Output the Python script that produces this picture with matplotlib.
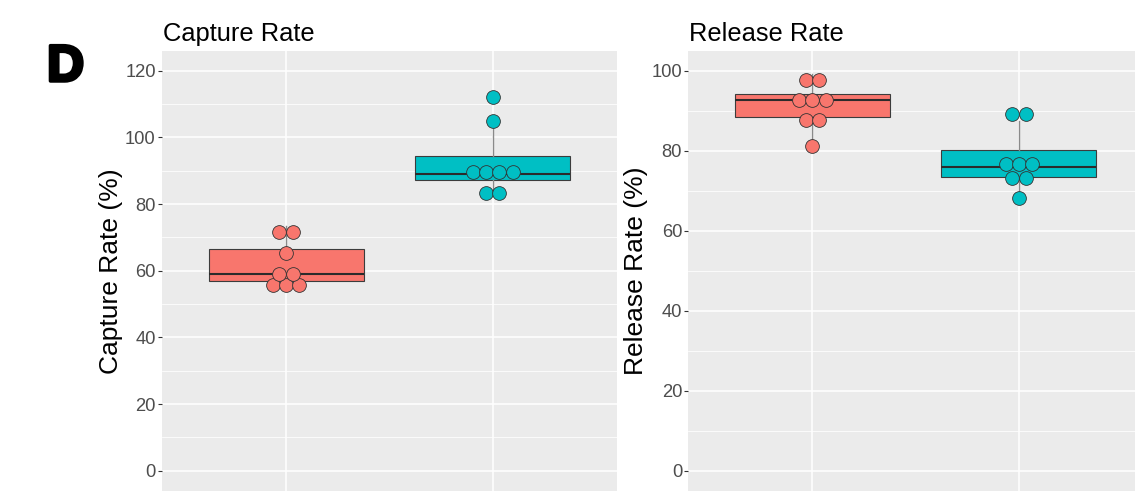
import numpy as np
import matplotlib
matplotlib.use("Agg")
import matplotlib.pyplot as plt
import matplotlib.patheffects as pe

plt.rcParams['font.family'] = ['Liberation Sans', 'DejaVu Sans']

# ---------------- data ----------------
groups = ["Group 1", "Group 2"]
capture_g1 = [53.8, 54.8, 57.6, 58.2, 59.8, 65.4, 69.9, 73.5]
capture_g2 = [83.0, 83.4, 88.5, 88.8, 89.4, 90.9, 105.0, 112.2]
release_g1 = [81.1, 86.0, 89.2, 91.9, 93.5, 93.5, 96.1, 99.3]
release_g2 = [68.1, 72.3, 73.9, 75.8, 76.2, 77.6, 87.5, 90.7]
capture_ticks = [0, 20, 40, 60, 80, 100, 120]
release_ticks = [0, 20, 40, 60, 80, 100]
panel_titles = ["Capture Rate", "Release Rate"]
y_labels = ["Capture Rate (%)", "Release Rate (%)"]
panel_letter = "D"

colors = ["#F8766D", "#00BFC4"]
W, H = 1135, 491
fig = plt.figure(figsize=(W / 100, H / 100), dpi=100)


def px_axes(x0, x1, y0, y1):
    return fig.add_axes([x0 / W, 1 - y1 / H, (x1 - x0) / W, (y1 - y0) / H])


def dot_bins(vals, bw):
    vals = sorted(vals)
    bins = []
    end = -np.inf
    for v in vals:
        if v >= end:
            bins.append([v])
            end = v + bw
        else:
            bins[-1].append(v)
    return [((min(b) + max(b)) / 2, len(b)) for b in bins]


def panel(ax, data, ticks, title, ylabel, ylab_x):
    lo, hi = min(ticks), max(ticks)
    ex = (hi - lo) * 0.05
    ax.set_xlim(0.4, 2.6)
    ax.set_ylim(lo - ex, hi + ex)
    ax.set_facecolor("#EBEBEB")
    for s in ax.spines.values():
        s.set_visible(False)
    # grid
    step = ticks[1] - ticks[0]
    for t in ticks:
        ax.axhline(t, color="white", lw=1.1, zorder=0)
    for t in ticks[:-1]:
        ax.axhline(t + step / 2, color="white", lw=0.55, zorder=0)
    for x in [1, 2]:
        ax.axvline(x, color="white", lw=1.1, zorder=0)
    ax.set_yticks(ticks)
    ax.set_yticklabels([str(t) for t in ticks], fontsize=13.2, color="#4D4D4D")
    ax.set_xticks([1, 2])
    ax.tick_params(axis="both", length=3, width=0.8, color="#333333", pad=1.5)
    ax.tick_params(axis="x", labelbottom=False)

    bp = ax.boxplot(data, positions=[1, 2], widths=0.75, whis=1.5,
                    showfliers=False, showcaps=False, patch_artist=True,
                    medianprops=dict(color="#2b2b2b", lw=1.5),
                    whiskerprops=dict(color="#8a8a8a", lw=1.0),
                    boxprops=dict(edgecolor="#3c3c3c", lw=0.8), zorder=2)
    for patch, c in zip(bp["boxes"], colors):
        patch.set_facecolor(c)

    # dotplot
    bw = (hi - lo) / 30.0
    fig.canvas.draw()
    p0 = ax.transData.transform((1, 0))
    p1 = ax.transData.transform((2, bw))
    px_per_x = p1[0] - p0[0]
    diam_px = p1[1] - p0[1]
    dx = diam_px / px_per_x
    d_pt = diam_px * 72 / fig.dpi
    for i, (vals, c) in enumerate(zip(data, colors)):
        for center, n in dot_bins(vals, bw):
            xs = (i + 1) + (np.arange(n) - (n - 1) / 2) * dx
            ax.scatter(xs, [center] * n, s=(d_pt + 0.3) ** 2, color=c,
                       edgecolor="#333333", linewidth=0.6, zorder=4)

    bb = ax.get_position()
    fig.text(bb.x0 + 1 / W, 1 - 41 / H, title, fontsize=18.4, color="black",
             ha="left", va="baseline")
    fig.text(ylab_x / W, bb.y0 + bb.height / 2, ylabel, fontsize=19,
             rotation=90, ha="center", va="center", color="black")


ax1 = px_axes(162, 616.7, 50.7, 490.7)
panel(ax1, [capture_g1, capture_g2], capture_ticks, panel_titles[0], y_labels[0], 111)
ax2 = px_axes(688.3, 1143, 50.7, 490.7)
panel(ax2, [release_g1, release_g2], release_ticks, panel_titles[1], y_labels[1], 636)

fig.text(47 / W, 1 - 81 / H, panel_letter, fontsize=37, fontweight="bold",
         ha="left", va="baseline", color="black",
         path_effects=[pe.withStroke(linewidth=2.5, foreground="black")])

fig.savefig("out.png", dpi=100)
